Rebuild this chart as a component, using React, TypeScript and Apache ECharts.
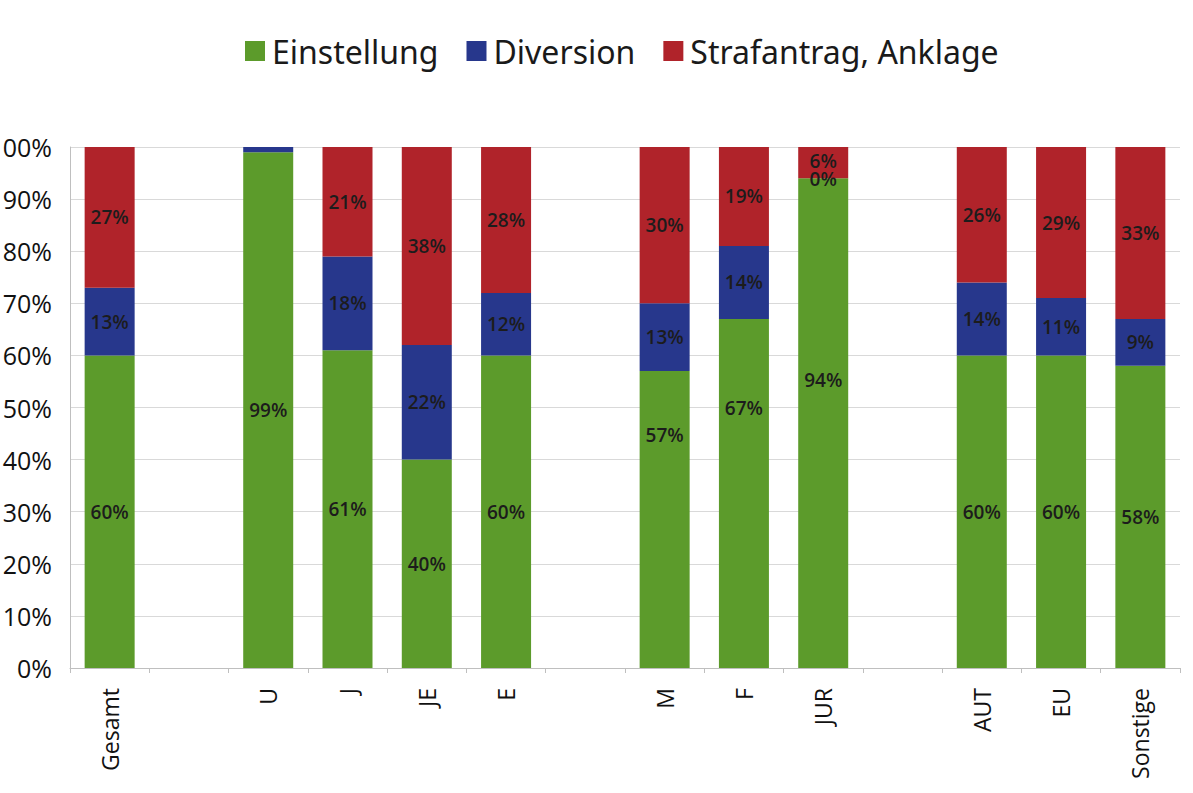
import React, { useEffect, useRef } from "react";
import * as echarts from "echarts";

const categories = ["Gesamt", "", "U", "J", "JE", "E", "", "M", "F", "JUR", "", "AUT", "EU", "Sonstige"];
const einstellung = [60, null, 99, 61, 40, 60, null, 57, 67, 94, null, 60, 60, 58];
const diversion = [13, null, 1, 18, 22, 12, null, 13, 14, 0, null, 14, 11, 9];
const strafantrag = [27, null, 0, 21, 38, 28, null, 30, 19, 6, null, 26, 29, 33];
const yTicks = [0, 10, 20, 30, 40, 50, 60, 70, 80, 90, 100];

const seriesNames = ["Einstellung", "Diversion", "Strafantrag, Anklage"];
const colors = ["#5c9b2b", "#27378c", "#b0232a"];

// label styling tweaks (pixel offsets), matching the reference's placement
const greenLabelOffset: Record<string, number> = { M: -85, F: -85, JUR: -43 };
const hiddenLabels: Record<string, boolean> = { "U-1": true, "U-2": true };

export default function App() {
  const ref = useRef<HTMLDivElement>(null);
  useEffect(() => {
    if (!ref.current) return;
    const chart = echarts.init(ref.current, null, { renderer: "svg" });
    const labelBase = {
      show: true,
      position: "inside",
      color: "#1c1c1c",
      fontFamily: "Open Sans",
      fontWeight: 600,
      fontSize: 19,
      formatter: (p: any) => `${p.value}%`,
    };
    const build = (vals: (number | null)[], si: number) =>
      vals.map((v, i) => {
        if (v === null) return "-";
        const cat = categories[i];
        const item: any = { value: v };
        const lbl: any = {};
        if (hiddenLabels[`${cat}-${si}`]) lbl.show = false;
        if (si === 0 && greenLabelOffset[cat] !== undefined) lbl.offset = [0, greenLabelOffset[cat]];
        if (si === 1 && v === 0) { lbl.position = "top"; lbl.distance = -10; }
        if (si === 2 && cat === "JUR") { lbl.offset = [0, -2]; }
        item.label = lbl;
        return item;
      });
    const all = [einstellung, diversion, strafantrag];
    chart.setOption({
      animation: false,
      backgroundColor: "#ffffff",
      legend: {
        top: 30,
        left: 240,
        itemWidth: 20,
        itemHeight: 20,
        itemGap: 28,
        icon: "rect",
        textStyle: { fontFamily: "Noto Sans", fontSize: 32, color: "#1a1a1a", padding: [0, 0, 0, 2] },
        data: seriesNames,
      },
      grid: { left: 70, right: 13, top: 147, bottom: 125, containLabel: false, outerBoundsMode: "none" },
      xAxis: {
        type: "category",
        data: categories,
        axisLine: { lineStyle: { color: "#bfbfbf" } },
        axisTick: { show: true, alignWithLabel: false, lineStyle: { color: "#bfbfbf" } },
        axisLabel: {
          rotate: 90,
          interval: 0,
          margin: 20,
          color: "#111",
          fontFamily: "Open Sans",
          fontSize: 23,
        },
      },
      yAxis: {
        type: "value",
        min: 0,
        max: 100,
        interval: 10,
        axisLine: { show: true, lineStyle: { color: "#bfbfbf" } },
        axisTick: { show: false },
        splitLine: { lineStyle: { color: "#d9d9d9" } },
        axisLabel: {
          margin: 18,
          color: "#111",
          fontFamily: "Open Sans",
          fontSize: 25,
          formatter: (v: number) => (yTicks.includes(v) ? `${v}%` : ""),
        },
      },
      series: all.map((vals, si) => ({
        name: seriesNames[si],
        type: "bar",
        stack: "total",
        barWidth: 50,
        itemStyle: { color: colors[si] },
        label: labelBase,
        data: build(vals, si),
      })),
    });
    return () => chart.dispose();
  }, []);
  return <div ref={ref} style={{ width: 1193, height: 793, position: "absolute", left: 0, top: 0 }} />;
}
